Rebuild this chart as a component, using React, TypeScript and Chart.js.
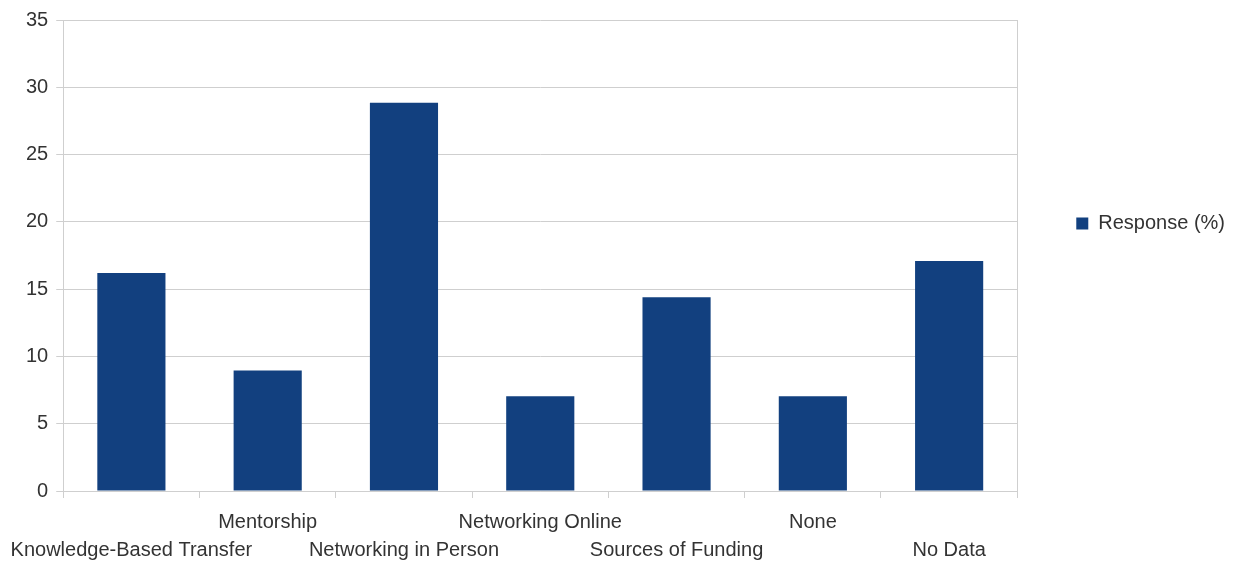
import { useEffect, useRef } from 'react';
import { Chart, registerables } from 'chart.js';

Chart.register(...registerables);

const categories = [
  'Knowledge-Based Transfer',
  'Mentorship',
  'Networking in Person',
  'Networking Online',
  'Sources of Funding',
  'None',
  'No Data',
];
const responseValues = [16.2, 8.95, 28.85, 7.05, 14.4, 7.05, 17.1];
const seriesName = 'Response (%)';
const yMin = 0;
const yMax = 35;
const yStep = 5;

const FONT = "'Liberation Sans', Arial, sans-serif";
const GRID = '#cfcfcf';
const TEXT = '#333333';

export default function App() {
  const ref = useRef<HTMLCanvasElement | null>(null);

  useEffect(() => {
    if (!ref.current) return;
    const chart = new Chart(ref.current, {
      type: 'bar',
      data: {
        labels: categories,
        datasets: [
          {
            label: seriesName,
            data: responseValues,
            backgroundColor: '#12407f',
            borderWidth: 0,
            barPercentage: 0.5,
            categoryPercentage: 1,
          },
        ],
      },
      options: {
        animation: false,
        responsive: false,
        maintainAspectRatio: false,
        layout: { padding: { left: 18, top: 20, right: 4, bottom: -10 } },
        plugins: {
          tooltip: { enabled: false },
          legend: {
            position: 'right',
            align: 'start',
            title: { display: true, text: '', padding: { top: 120, bottom: 0 }, font: { size: 12, family: FONT } },
            labels: {
              boxWidth: 12,
              boxHeight: 12,
              padding: 59,
              color: TEXT,
              font: { size: 20, family: FONT },
            },
          },
        },
        scales: {
          x: {
            offset: true,
            afterFit: (scale: any) => {
              scale.paddingLeft = 0;
              scale.paddingRight = 0;
            },
            grid: {
              offset: true,
              drawOnChartArea: true,
              color: (ctx: any) => (ctx.type === 'tick' ? 'rgba(0,0,0,0)' : GRID),
              tickColor: GRID,
              tickLength: 7,
            },
            border: { display: true, color: GRID },
            ticks: {
              autoSkip: false,
              maxRotation: 0,
              minRotation: 0,
              padding: 10,
              color: TEXT,
              font: { size: 20, family: FONT, lineHeight: 1.4 },
              callback: (_v: any, i: number) => (i % 2 === 1 ? [categories[i], ''] : ['', categories[i]]),
            },
          },
          y: {
            min: yMin,
            max: yMax,
            grid: { color: GRID, tickColor: GRID, tickLength: 7 },
            border: { display: true, color: GRID },
            ticks: {
              stepSize: yStep,
              padding: 8,
              color: TEXT,
              font: { size: 20, family: FONT },
            },
          },
        },
      },
    });
    return () => chart.destroy();
  }, []);

  return (
    <div style={{ position: 'fixed', left: 0, top: 0, width: 1239, height: 564, background: '#fff', overflow: 'hidden' }}>
      <canvas ref={ref} width={1239} height={564} style={{ width: 1239, height: 564, display: 'block' }} />
    </div>
  );
}
